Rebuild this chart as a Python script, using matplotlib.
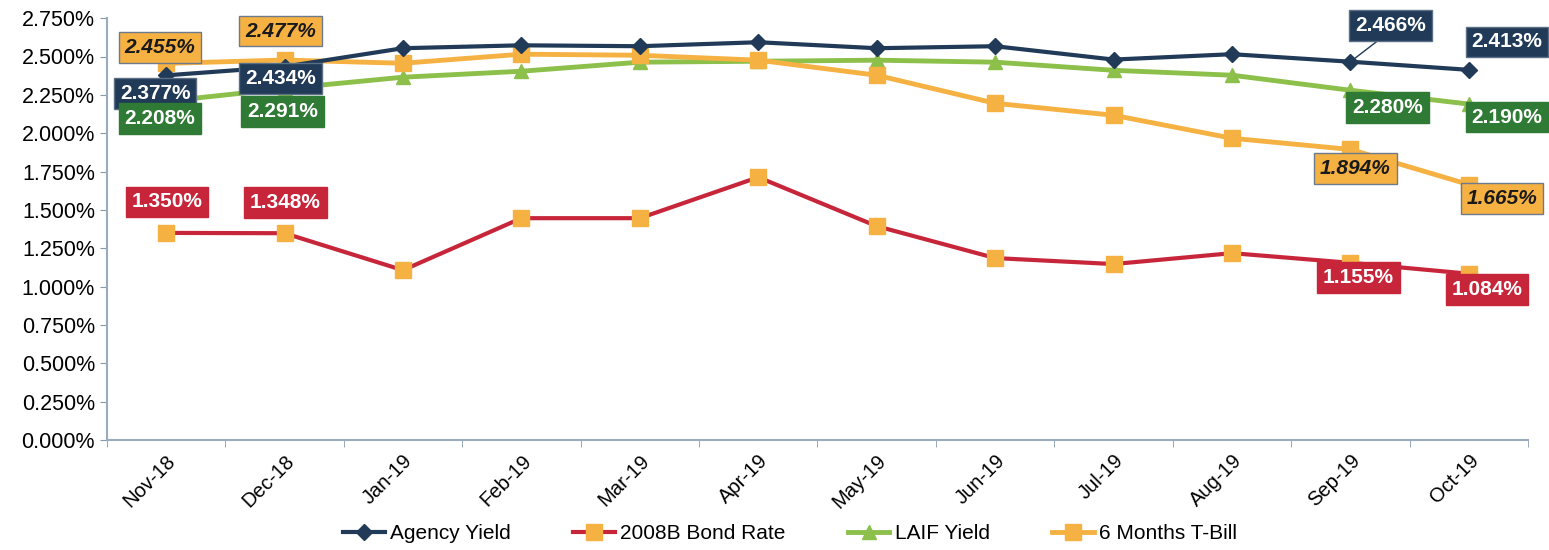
import numpy as np
import matplotlib
matplotlib.use('Agg')
import matplotlib.pyplot as plt
from matplotlib.ticker import FuncFormatter, FixedLocator

plt.rcParams['font.family'] = ['Liberation Sans', 'DejaVu Sans']

months = ['Nov-18', 'Dec-18', 'Jan-19', 'Feb-19', 'Mar-19', 'Apr-19',
          'May-19', 'Jun-19', 'Jul-19', 'Aug-19', 'Sep-19', 'Oct-19']

agency = [2.377, 2.434, 2.554, 2.573, 2.567, 2.593, 2.554, 2.567, 2.480, 2.515, 2.466, 2.413]
bond = [1.350, 1.348, 1.107, 1.446, 1.446, 1.713, 1.394, 1.186, 1.147, 1.218, 1.155, 1.084]
laif = [2.208, 2.291, 2.365, 2.404, 2.463, 2.469, 2.476, 2.463, 2.410, 2.378, 2.280, 2.190]
tbill = [2.455, 2.477, 2.456, 2.515, 2.508, 2.476, 2.378, 2.195, 2.117, 1.967, 1.894, 1.665]

# indexes that carry a value label, with pixel offsets for the box
lab_idx = [0, 1, 10, 11]
agency_off = [(-11, -18), (-4, -12), (40, 36), (38, 28)]
laif_off = [(-6, -17), (-2, -23), (37, -17), (38, -13)]
tbill_off = [(-6, 16), (-4, 29), (5, -19), (33, -14)]
bond_off = [(1, 31), (1, 31), (8, -15), (18, -16)]

navy = '#203a57'
red = '#c7263a'
green = '#8cc04b'
dgreen = '#2f7a34'
orange = '#f6b143'

fig = plt.figure(figsize=(15.49, 5.5), dpi=100)
ax = fig.add_axes([0.069, 0.2, 0.9175, 0.767])

x = np.arange(len(months))
ax.plot(x, bond, color=red, lw=3, marker='s', ms=11, mfc=orange, mec=orange,
        label='2008B Bond Rate', zorder=3)
ax.plot(x, tbill, color=orange, lw=3.5, marker='s', ms=12, mfc=orange, mec=orange,
        label='6 Months T-Bill', zorder=4)
ax.plot(x, laif, color=green, lw=3.5, marker='^', ms=10, mfc=green, mec=green,
        label='LAIF Yield', zorder=3)
ax.plot(x, agency, color=navy, lw=3, marker='D', ms=8, mfc=navy, mec=navy,
        label='Agency Yield', zorder=5)


def put_labels(vals, offs, fc, tc, style='normal', ec=None):
    for i, off in zip(lab_idx, offs):
        ax.annotate('{:.3f}%'.format(vals[i]), (x[i], vals[i]), xytext=off,
                    textcoords='offset pixels', ha='center', va='center',
                    fontsize=15, fontweight='bold', fontstyle=style, color=tc,
                    bbox=dict(boxstyle='square,pad=0.28', fc=fc, ec=ec or fc, lw=1),
                    zorder=10)


put_labels(agency, agency_off, navy, 'white', ec='#5b6f86')
put_labels(laif, laif_off, dgreen, 'white')
put_labels(tbill, tbill_off, orange, '#1a1a1a', style='italic', ec='#6b7a8c')
put_labels(bond, bond_off, red, 'white')

# leader line like the original
ax.annotate('', (x[10], agency[10]), xytext=(x[10] + 0.27, agency[10] + 0.16),
            arrowprops=dict(arrowstyle='-', color=navy, lw=1), zorder=6)

ax.set_xlim(-0.5, len(months) - 0.5)
ax.set_ylim(0, 2.75)
ax.set_yticks(np.arange(0, 2.76, 0.25))
ax.yaxis.set_major_formatter(FuncFormatter(lambda v, p: '{:.3f}%'.format(v)))
ax.set_xticks(x)
ax.set_xticklabels(months, rotation=45, ha='right', rotation_mode='anchor')
ax.xaxis.set_minor_locator(FixedLocator(np.arange(-0.5, len(months), 1.0)))
ax.tick_params(axis='x', which='major', length=0, labelsize=14.5, pad=8)
ax.tick_params(axis='x', which='minor', length=5, color='#8899ab')
ax.tick_params(axis='y', length=5, color='#8899ab', labelsize=15.5, direction='out')

for s in ['top', 'right']:
    ax.spines[s].set_visible(False)
for s in ['left', 'bottom']:
    ax.spines[s].set_color('#9aabbd')
    ax.spines[s].set_linewidth(1.5)

h, l = ax.get_legend_handles_labels()
order = [3, 0, 2, 1]
fig.legend([h[k] for k in order], [l[k] for k in order], loc='center',
           bbox_to_anchor=(0.51, 0.03), ncol=4, frameon=False, fontsize=15,
           handlelength=2.0, handletextpad=0.25, columnspacing=3.0)

fig.savefig('out.png', dpi=100)
